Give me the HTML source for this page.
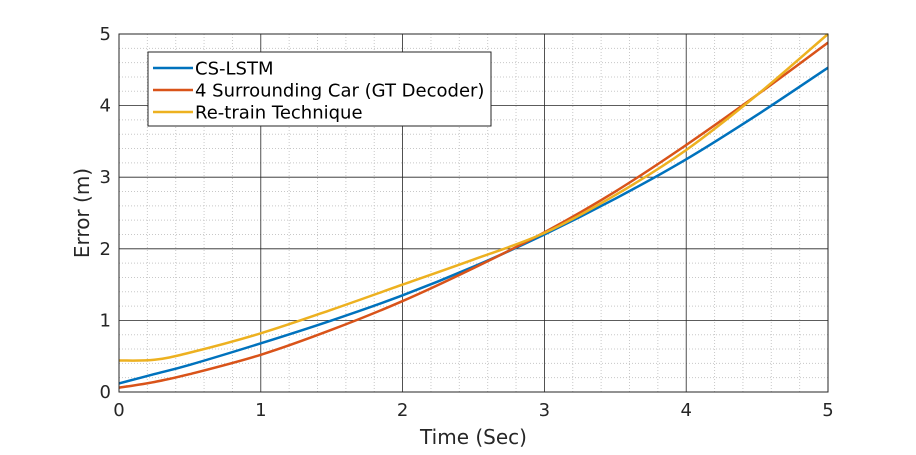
<!DOCTYPE html>
<html><head><meta charset="utf-8"><style>
body{margin:0;background:#fff;}
svg{font-family:"DejaVu Sans","Liberation Sans",sans-serif;}
</style></head><body>
<svg id="chart" width="916" height="450">
<rect width="916" height="450" fill="#fff"/>
<g id="grid"></g><g id="series"></g><g id="axes"></g>
</svg>
<script>
const xTicks=[0,1,2,3,4,5];
const yTicks=[0,1,2,3,4,5];
const xs=[0,0.25,0.5,1,1.5,2,2.5,3,3.5,4,4.5,5];
const csLstm=[0.12,0.25,0.38,0.68,1.0,1.35,1.75,2.2,2.7,3.25,3.87,4.53];
const gtDecoder=[0.06,0.14,0.25,0.52,0.87,1.27,1.73,2.23,2.8,3.45,4.15,4.88];
const retrain=[0.44,0.45,0.55,0.82,1.15,1.5,1.85,2.22,2.75,3.38,4.15,5.0];
const names=["CS-LSTM","4 Surrounding Car (GT Decoder)","Re-train Technique"];
const colors=["#0072bd","#d95319","#edb120"];
const L=119,R=828,T=34,B=392;
const X=v=>L+(v/5)*(R-L), Y=v=>B-(v/5)*(B-T);
const NS="http://www.w3.org/2000/svg";
function mk(tag,attrs,parent){const e=document.createElementNS(NS,tag);for(const k in attrs)e.setAttribute(k,attrs[k]);parent.appendChild(e);return e;}
const grid=document.getElementById('grid'),axes=document.getElementById('axes'),ser=document.getElementById('series');
for(let i=1;i<25;i++){if(i%5===0)continue;const v=i*0.2;
 const a=mk('line',{x1:X(v),x2:X(v),y1:T,y2:B,stroke:'#c8c8c8','stroke-width':1,'stroke-dasharray':'1,2'},grid);
 
 const b=mk('line',{x1:L,x2:R,y1:Y(v),y2:Y(v),stroke:'#c8c8c8','stroke-width':1,'stroke-dasharray':'1,2'},grid);
 }
xTicks.forEach(t=>{const l=mk('line',{x1:X(t),x2:X(t),y1:T,y2:B,stroke:'#262626','stroke-width':0.8},grid);
 
 const tx=mk('text',{x:X(t),y:B+24,'text-anchor':'middle','font-size':18,fill:'#262626'},axes);tx.textContent=t;
 });
yTicks.forEach(t=>{const l=mk('line',{x1:L,x2:R,y1:Y(t),y2:Y(t),stroke:'#262626','stroke-width':0.8},grid);
 
 const tx=mk('text',{x:L-8,y:Y(t)+6,'text-anchor':'end','font-size':18,fill:'#262626'},axes);tx.textContent=t;
 });
const fr=mk('rect',{x:L,y:T,width:R-L,height:B-T,fill:'none',stroke:'#262626','stroke-width':1},axes);

const xl=mk('text',{x:(L+R)/2,y:444,'text-anchor':'middle','font-size':20,fill:'#262626'},axes);xl.textContent='Time (Sec)';

const yl=mk('text',{x:0,y:0,'text-anchor':'middle','font-size':20,fill:'#262626',transform:`translate(89,${(T+B)/2}) rotate(-90)`},axes);yl.textContent='Error (m)';

function path(ys){const p=xs.map((x,i)=>[X(x),Y(ys[i])]);let d=`M${p[0][0]},${p[0][1]}`;
 for(let i=0;i<p.length-1;i++){const p0=p[i-1]||p[i],p1=p[i],p2=p[i+1],p3=p[i+2]||p2;
  d+=` C${p1[0]+(p2[0]-p0[0])/6},${p1[1]+(p2[1]-p0[1])/6} ${p2[0]-(p3[0]-p1[0])/6},${p2[1]-(p3[1]-p1[1])/6} ${p2[0]},${p2[1]}`;}return d;}
[csLstm,gtDecoder,retrain].forEach((s,i)=>{const p=mk('path',{d:path(s),fill:'none',stroke:colors[i],'stroke-width':2.5},ser);
 });
const lg=mk('g',{},axes);
mk('rect',{x:148,y:52,width:343,height:74,fill:'#fff',stroke:'#262626','stroke-width':1},lg);
names.forEach((n,i)=>{const y=68+i*22;
 const l=mk('line',{x1:153,x2:193,y1:y,y2:y,stroke:colors[i],'stroke-width':2.5},lg);
 
 const t=mk('text',{x:195,y:y+6.5,'font-size':18,fill:'#000'},lg);t.textContent=n;
 });
</script>
</body></html>
